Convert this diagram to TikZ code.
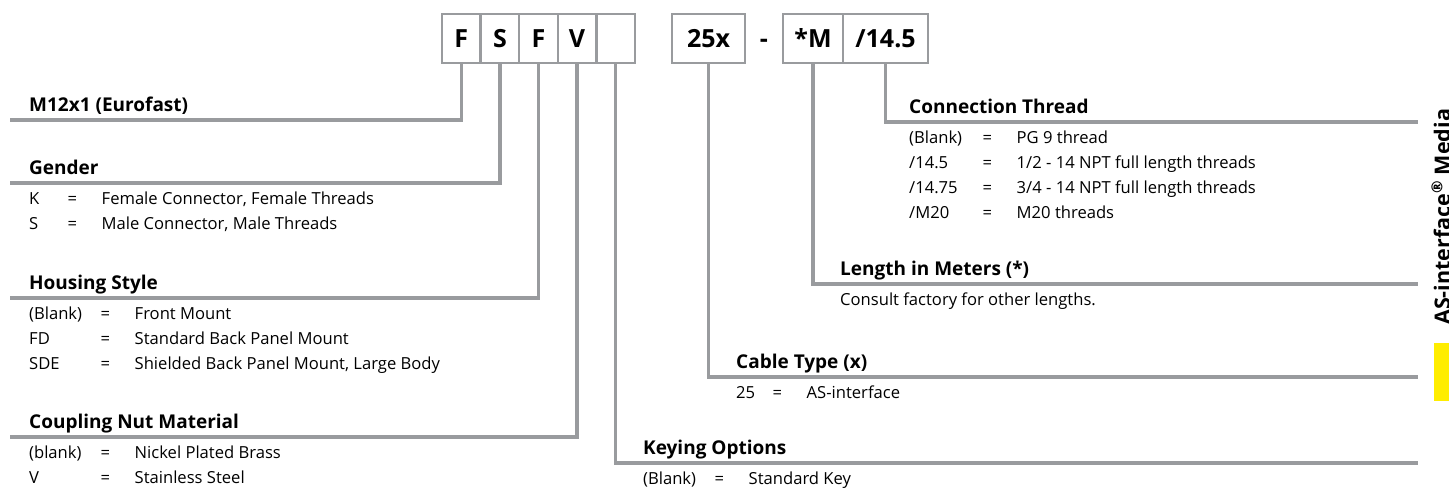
\documentclass[tikz,border=0pt]{standalone}
\usepackage{fontspec}
\setmainfont{Open Sans}
\usetikzlibrary{positioning,calc}
\definecolor{leadgray}{RGB}{153,155,158}
\definecolor{asiyellow}{RGB}{255,237,0}
\newcommand{\opt}[3]{\makebox[#1][l]{#2}\makebox[34pt][l]{=}#3}

\begin{document}
\begin{tikzpicture}[
  x=1pt, y=-1pt,
  cell/.style={draw=leadgray, line width=2.5pt, outer sep=0pt, inner sep=0pt, minimum width=38.6pt, minimum height=49pt, text height=17.8pt, text depth=0pt, font=\fontsize{25}{28}\selectfont\bfseries},
  head/.style={anchor=base west, inner sep=0pt, font=\fontsize{19}{22}\selectfont\bfseries},
  item/.style={anchor=base west, inner sep=0pt, font=\fontsize{16.6}{20}\selectfont},
  lead/.style={draw=leadgray, line width=3.5pt}
]
\useasboundingbox (0,0) rectangle (1449,489);

% part number boxes
\node[cell] (cF) at (461.3,38.5) {F};
\node[cell, right=0pt of cF] (cS) {S};
\node[cell, right=0pt of cS] (cH) {F};
\node[cell, right=0pt of cH] (cV) {V};
\node[cell, right=0pt of cV] (cK) {};
\node[cell, right=37pt of cK, minimum width=73pt] (cC) {25x};
\node[cell, right=38pt of cC, minimum width=60pt] (cL) {*M};
\node[cell, right=0pt of cL, minimum width=85pt] (cT) {/14.5};
\node[cell, draw=none, minimum width=0pt] (dash) at ($(cC.east)!0.5!(cL.west)$) {-};

% leader ends
\coordinate (eF) at (10,120);
\coordinate (eS) at (10,183);
\coordinate (eH) at (10,298);
\coordinate (eV) at (10,437);
\coordinate (eK) at (1418,463);
\coordinate (eC) at (1418,377);
\coordinate (eL) at (1418,284);
\coordinate (eT) at (1418,122);

\draw[lead] (cF.south) |- (eF);
\draw[lead] (cS.south) |- (eS);
\draw[lead] (cH.south) |- (eH);
\draw[lead] (cV.south) |- (eV);
\draw[lead] (cK.south) |- (eK);
\draw[lead] (cC.south) |- (eC);
\draw[lead] (cL.south) |- (eL);
\draw[lead] (cT.south) |- (eT);

% left column
\node[head] (tF) at (29,111.5) {M12x1 (Eurofast)};
\node[head] (tS) at (29,174.5) {Gender};
\foreach \c/\d [count=\i] in {K/{Female Connector, Female Threads}, S/{Male Connector, Male Threads}}
  \node[item] (rS\i) at (29,{204.5+25*(\i-1)}) {\opt{38.5pt}{\c}{\d}};
\node[head] (tH) at (29,289.5) {Housing Style};
\foreach \c/\d [count=\i] in {(Blank)/Front Mount, FD/Standard Back Panel Mount, SDE/{Shielded Back Panel Mount, Large Body}}
  \node[item] (rH\i) at (29,{319.5+25*(\i-1)}) {\opt{71.5pt}{\c}{\d}};
\node[head] (tV) at (29,428.5) {Coupling Nut Material};
\foreach \c/\d [count=\i] in {(blank)/Nickel Plated Brass, V/Stainless Steel}
  \node[item] (rV\i) at (29,{458.5+25*(\i-1)}) {\opt{71.5pt}{\c}{\d}};

% right column
\node[head] (tT) at (909,113.5) {Connection Thread};
\node[item] (rT1) at (909,143.5) {\opt{73.5pt}{(Blank)}{PG 9 thread}};
\node[item] (rT2) at (909,168.5) {\opt{73.5pt}{/14.5}{1/2 - 14 NPT full length threads}};
\node[item] (rT3) at (909,193.5) {\opt{73.5pt}{/14.75}{3/4 - 14 NPT full length threads}};
\node[item] (rT4) at (909,218.5) {\opt{73.5pt}{/M20}{M20 threads}};
\node[head] (tL) at (840,275.5) {Length in Meters (*)};
\node[item] (rL1) at (840,305.5) {Consult factory for other lengths.};
\node[head] (tC) at (736,368.5) {Cable Type (x)};
\node[item] (rC1) at (736,398.5) {\opt{36.5pt}{25}{AS-interface}};
\node[head] (tK) at (643,454.5) {Keying Options};
\node[item] (rK1) at (643,484.5) {\opt{71.5pt}{(Blank)}{Standard Key}};

% side tab
\node[rotate=90, anchor=base west, inner sep=0pt, font=\fontsize{21.5}{24}\selectfont\bfseries] (tab) at (1450,325) {AS-interface\textsuperscript{®} Media};
\fill[asiyellow] (1434,343) rectangle (1449,401);
\end{tikzpicture}
\end{document}
